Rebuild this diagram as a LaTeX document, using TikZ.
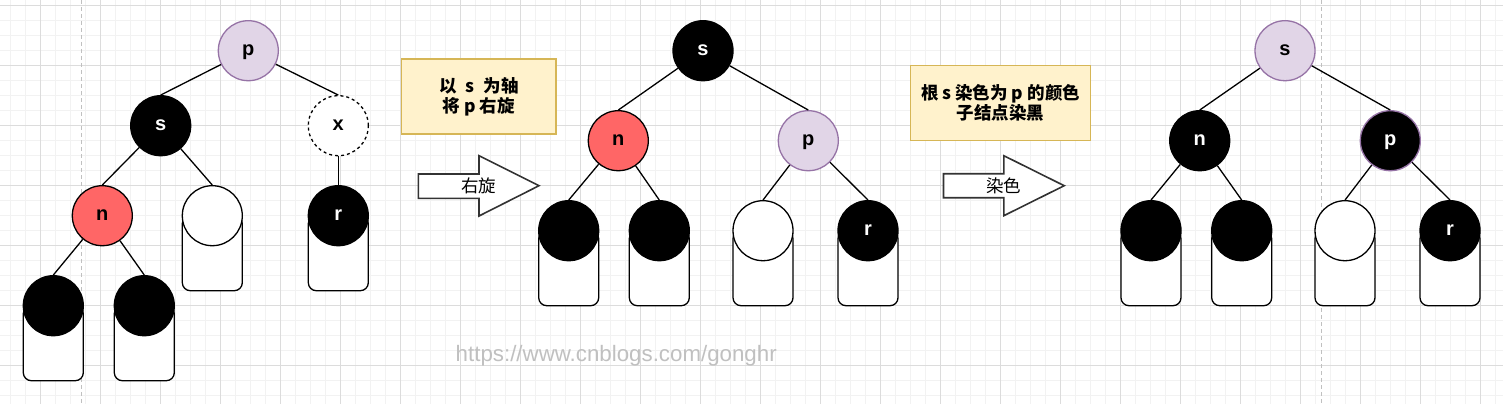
\documentclass[tikz,border=0pt]{standalone}
\usepackage{fontspec}
\setmainfont{Liberation Sans}
\newfontfamily\cjk{Noto Sans CJK SC}
\definecolor{pfill}{HTML}{E1D5E7}
\definecolor{pstroke}{HTML}{9673A6}
\definecolor{rfill}{HTML}{FF6666}
\definecolor{yfill}{HTML}{FFF2CC}
\definecolor{ystroke}{HTML}{D6B656}
\definecolor{gminor}{HTML}{F2F2F2}
\definecolor{gmajor}{HTML}{DCDCDC}
\definecolor{pagegray}{HTML}{C0C0C0}
\definecolor{wmgray}{HTML}{C0C0C0}
\definecolor{arrowline}{HTML}{333333}
\begin{document}
\begin{tikzpicture}[x=1pt,y=-1pt,
  minorgrid/.style={draw=gminor,line width=1pt},
  majorgrid/.style={draw=gmajor,line width=1pt},
  pageline/.style={draw=pagegray,line width=1pt,dash pattern=on 4pt off 3pt},
  tn/.style={circle,minimum size=60,inner sep=0pt,draw=black,line width=1.3pt,
    font=\bfseries\fontsize{20}{20}\selectfont,text height=10.4pt,text depth=0pt},
  tnblack/.style={fill=black,text=white},
  tnred/.style={fill=rfill},
  tnwhite/.style={fill=white},
  tnpurple/.style={fill=pfill,draw=pstroke},
  tnblackp/.style={fill=black,draw=pstroke,text=white},
  tndash/.style={fill=white,dashed},
  leafbox/.style={rectangle,draw=black,fill=white,line width=1.3pt,rounded corners=8pt,
    minimum width=60,minimum height=75,inner sep=0pt},
  edge/.style={draw=black,line width=1.3pt},
  ybox/.style={rectangle,draw=ystroke,fill=yfill,line width=1.5pt,inner sep=0pt,
    align=center,font=\cjk\bfseries\fontsize{17.5}{20}\selectfont},
  blockarrow/.style={draw=arrowline,fill=white,line width=1.6pt,line join=miter},
  arrowtext/.style={inner sep=0pt,font=\cjk\fontsize{17.5}{17.5}\selectfont},
  wm/.style={inner sep=0pt,anchor=base west,text=wmgray,font=\fontsize{22.3}{22.3}\selectfont}
]
\useasboundingbox (0,0) rectangle (1503,404);
\fill[white] (0,0) rectangle (1503,404);
% grid
\foreach \i in {0,...,99} {\draw[minorgrid] ({10.7+15*\i},0) -- ({10.7+15*\i},404);}
\foreach \i in {0,...,26} {\draw[minorgrid] (0,{5.3+15*\i}) -- (1503,{5.3+15*\i});}
\foreach \i in {0,...,24} {\draw[majorgrid] ({40.7+60*\i},0) -- ({40.7+60*\i},404);}
\foreach \i in {0,...,6} {\draw[majorgrid] (0,{5.3+60*\i}) -- (1503,{5.3+60*\i});}
\draw[pageline] (81.7,0) -- (81.7,404);
\draw[pageline] (1321.7,0) -- (1321.7,404);

% watermark
\node[wm] (wmark) at (455.5,361.7) {https://www.cnblogs.com/gonghr};

% leaves with subtree boxes
\foreach \nm/\x/\y/\st/\lb in {
  w1/212.3/215.7/tnwhite/{}, r1/338.3/215.7/tnblack/r,
  a1/53.3/305.7/tnblack/{}, b1/144.3/305.7/tnblack/{},
  a2/568.7/230.7/tnblack/{}, b2/659.3/230.7/tnblack/{},
  w2/763/230.7/tnwhite/{}, r2/868/230.7/tnblack/r,
  a3/1151/230.7/tnblack/{}, b3/1241.7/230.7/tnblack/{},
  w3/1345/230.7/tnwhite/{}, r3/1450/230.7/tnblack/r} {
  \node[leafbox] (\nm box) at (\x,\y+37.5) {};
  \node[tn,\st] (\nm) at (\x,\y) {\lb};
}

% tree 1
\node[tn,tnpurple] (p1) at (248.3,50.7) {p};
\node[tn,tnblack] (s1) at (160.7,125.7) {s};
\node[tn,tndash] (x1) at (338.3,125.7) {x};
\node[tn,tnred] (n1) at (102.3,215.7) {n};
\draw[edge] (p1) -- (s1.north);
\draw[edge] (p1) -- (x1.north);
\draw[edge] (s1) -- (n1.north);
\draw[edge] (s1) -- (w1.north);
\draw[edge] (x1) -- (r1.north);
\draw[edge] (n1) -- (a1.north);
\draw[edge] (n1) -- (b1.north);

% tree 2
\node[tn,tnblack] (s2) at (703,50.7) {s};
\node[tn,tnred] (n2) at (618.3,140.7) {n};
\node[tn,tnpurple] (p2) at (808.3,140.7) {p};
\draw[edge] (s2) -- (n2.north);
\draw[edge] (s2) -- (p2.north);
\draw[edge] (n2) -- (a2.north);
\draw[edge] (n2) -- (b2.north);
\draw[edge] (p2) -- (w2.north);
\draw[edge] (p2) -- (r2.north);

% tree 3
\node[tn,tnpurple] (s3) at (1285,50.7) {s};
\node[tn,tnblack] (n3) at (1199.7,140.7) {n};
\node[tn,tnblackp] (p3) at (1390.3,140.7) {p};
\draw[edge] (s3) -- (n3.north);
\draw[edge] (s3) -- (p3.north);
\draw[edge] (n3) -- (a3.north);
\draw[edge] (n3) -- (b3.north);
\draw[edge] (p3) -- (w3.north);
\draw[edge] (p3) -- (r3.north);

% notes
\node[ybox,minimum width=154.3,minimum height=75] (box1) at (478.85,96.5)
  {以\hspace{9pt}s\hspace{9pt}为轴\\将 p 右旋};
\node[ybox,minimum width=179.6,minimum height=75] (box2) at (1000.5,103.2)
  {根 s 染色为 p 的颜色\\子结点染黑};

% block arrows
\draw[blockarrow] (418.3,174) -- (479,174) -- (479,155.7) -- (539,185.7)
  -- (479,216) -- (479,198.3) -- (418.3,198.3) -- cycle;
\node[arrowtext] (arr1) at (478.8,185.7) {右旋};
\draw[blockarrow] (943.5,173.7) -- (1003.8,173.7) -- (1003.8,155.7) -- (1064.2,185.7)
  -- (1003.8,215.7) -- (1003.8,197.7) -- (943.5,197.7) -- cycle;
\node[arrowtext] (arr2) at (1003.8,185.7) {染色};
\end{tikzpicture}
\end{document}
